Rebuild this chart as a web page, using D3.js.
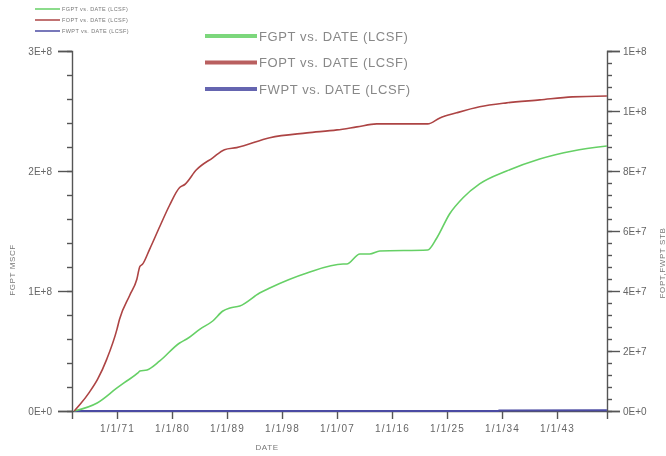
<!DOCTYPE html>
<html>
<head>
<meta charset="utf-8">
<script src="https://cdn.jsdelivr.net/npm/d3@7"></script>
<style>
    body {margin:0; background:#fff;}
    svg {display:block; font-family:"Liberation Sans", Arial, sans-serif; filter: blur(0.35px);}
    .tlabel {fill:#666; font-size:10px;}
    .xlabel {fill:#666; font-size:10px; letter-spacing:1.2px;}
    .ttl {fill:#777; font-size:8px; letter-spacing:0.6px;}
</style>
</head>
<body>
<div id="chart"></div>
<script>
// FGPT (left axis, MSCF)
var gasDates = ["1964-01-01","1967-10-01","1971-01-01","1972-08-01","1974-06-01","1974-10-01","1975-12-01","1978-01-01",
    "1981-04-01","1982-06-01","1984-08-01","1986-09-01","1988-05-01","1989-07-01","1991-02-01","1994-05-01","1996-01-01",
    "2002-02-01","2008-01-01","2008-08-01","2010-10-01","2012-05-01","2014-01-01","2021-11-01","2023-05-01","2025-06-01",
    "2027-08-01","2030-05-01","2034-10-01","2040-03-01","2045-08-01","2051-03-01"];
var gasValues = [0,6.7e6,19.2e6,25e6,31.7e6,33.3e6,34.2e6,41.7e6,
    56.7e6,60e6,68.3e6,75e6,83.3e6,85.8e6,87.5e6,98.3e6,102.5e6,
    115e6,122.5e6,122.5e6,130.8e6,130.8e6,133.3e6,134.2e6,144.2e6,164.2e6,
    177.5e6,189.2e6,200e6,210e6,216.7e6,220.8e6];

// FOPT (right axis, STB)
var oilDates = ["1964-01-01","1965-01-01","1966-07-01","1967-11-01","1969-05-01","1971-01-01","1971-06-01","1973-02-01",
    "1974-04-01","1974-10-01","1975-03-01","1976-05-01","1978-01-01","1979-08-01","1981-04-01","1982-02-01","1984-01-01",
    "1986-09-01","1988-08-01","1990-08-01","1996-01-01","2002-02-01","2007-01-01","2010-04-01","2013-07-01","2021-11-01",
    "2023-11-01","2026-08-01","2030-05-01","2034-10-01","2040-03-01","2045-07-01","2051-03-01"];
var oilValues = [0,2.3e6,6.3e6,10.6e6,17.3e6,27.3e6,30.6e6,38.6e6,
    43.9e6,48.2e6,48.9e6,53.9e6,61.5e6,68.5e6,74.5e6,75.5e6,80.4e6,
    84.4e6,87.1e6,87.8e6,91.1e6,92.7e6,93.7e6,94.7e6,95.7e6,95.7e6,
    97.7e6,99.4e6,101.4e6,102.7e6,103.7e6,104.7e6,105.0e6];

// FWPT (right axis, STB)
var waterDates = ["1964-01-01","2033-06-01","2033-07-01","2051-03-01"];
var waterValues = [0,0,2e5,2.5e5];

var xTickDates = ["1971-01-01","1980-01-01","1989-01-01","1998-01-01","2007-01-01","2016-01-01","2025-01-01","2034-01-01","2043-01-01"];
var leftTicks = [0,1e8,2e8,3e8];
var rightTicks = [0,2e7,4e7,6e7,8e7,1e8,1.2e8];
var seriesNames = ["FGPT  vs.  DATE (LCSF)","FOPT  vs.  DATE  (LCSF)","FWPT  vs.  DATE (LCSF)"];
var seriesColors = ["#66d066","#ad4444","#4b4ba3"];

var W = 666, H = 456;
var m = {l:72, r:59, t:51, b:45}; // plot box 72..607 x 51..411
var parse = d3.timeParse("%Y-%m-%d");

var svg = d3.select("#chart").append("svg").attr("width",W).attr("height",H);

var x = d3.scaleTime()
    .domain([new Date(1963,7,21), new Date(2051,2,7)])
    .range([m.l, W-m.r]);
var yL = d3.scaleLinear().domain([0,3e8]).range([H-m.b, m.t]);
var yR = d3.scaleLinear().domain([0,1.2e8]).range([H-m.b, m.t]);

// old plotting package style labels, mantissa is truncated (1.2E+8 -> 1E+8)
function sci(v) {
    if (v===0) return "0E+0";
    var e = Math.floor(Math.log10(v) + 1e-9);
    return Math.floor(v/Math.pow(10,e) + 1e-9) + "E+" + e;
}

function minorTicks(maxV, step) {
    return d3.range(0, maxV + step/2, step);
}

// left axis
var gl = svg.append("g").attr("transform","translate(" + m.l + ",0)");
gl.call(d3.axisLeft(yL).tickValues(minorTicks(3e8,2e7)).tickSize(5).tickFormat(""));
gl.call(g => g.select(".domain").remove());
var glM = svg.append("g").attr("transform","translate(" + m.l + ",0)")
    .call(d3.axisLeft(yL).tickValues(leftTicks).tickSize(14).tickPadding(6).tickFormat(sci));
glM.selectAll("text").attr("class","tlabel").attr("font-family",null).attr("font-size",null);

// right axis
var gr = svg.append("g").attr("transform","translate(" + (W-m.r) + ",0)");
gr.call(d3.axisRight(yR).tickValues(minorTicks(1.2e8,4e6)).tickSize(5).tickFormat(""));
gr.call(g => g.select(".domain").remove());
var grM = svg.append("g").attr("transform","translate(" + (W-m.r) + ",0)")
    .call(d3.axisRight(yR).tickValues(rightTicks).tickSize(13).tickPadding(3).tickFormat(sci));
grM.selectAll("text").attr("class","tlabel").attr("font-family",null).attr("font-size",null);

// bottom axis
var gb = svg.append("g").attr("transform","translate(0," + (H-m.b) + ")")
    .call(d3.axisBottom(x).tickValues(xTickDates.map(parse)).tickSize(8).tickPadding(6)
        .tickFormat(d3.timeFormat("%-m/%-d/%y")));
gb.selectAll("text").attr("class","xlabel").attr("font-family",null).attr("font-size",null);

svg.selectAll(".domain, .tick line").attr("stroke","#555").attr("stroke-width",1.4);

// axis titles
svg.append("text").attr("class","ttl").attr("x",267).attr("y",450).attr("text-anchor","middle").text("DATE");
svg.append("text").attr("class","ttl").attr("text-anchor","middle")
    .attr("transform","translate(15,270) rotate(-90)").text("FGPT  MSCF");
svg.append("text").attr("class","ttl").attr("text-anchor","middle")
    .attr("transform","translate(665,263) rotate(-90)").text("FOPT,FWPT  STB");

// series
var line = (yS) => d3.line().curve(d3.curveMonotoneX).x(d => x(d[0])).y(d => yS(d[1]));
function zipS(ds, vs) { return ds.map((d,i) => [parse(d), vs[i]]); }

svg.append("path").datum(zipS(waterDates,waterValues))
    .attr("d", line(yR)).attr("fill","none").attr("stroke",seriesColors[2]).attr("stroke-width",2);
svg.append("path").datum(zipS(gasDates,gasValues))
    .attr("d", line(yL)).attr("fill","none").attr("stroke",seriesColors[0]).attr("stroke-width",1.6);
svg.append("path").datum(zipS(oilDates,oilValues))
    .attr("d", line(yR)).attr("fill","none").attr("stroke",seriesColors[1]).attr("stroke-width",1.6);

// small legend, top left
var lgS = svg.append("g").selectAll("g").data(seriesNames).join("g")
    .attr("transform",(d,i) => "translate(35," + (9 + i*11) + ")");
lgS.append("line").attr("x1",0).attr("x2",25).attr("stroke",(d,i) => seriesColors[i]).attr("stroke-width",1.5);
lgS.append("text").attr("x",27).attr("dy","0.35em").attr("fill","#777")
    .attr("font-size",5.5).attr("letter-spacing",0.4).text(d => d);

// big legend
var lgB = svg.append("g").selectAll("g").data(seriesNames).join("g")
    .attr("transform",(d,i) => "translate(205," + (36 + i*26.5) + ")");
lgB.append("line").attr("x1",0).attr("x2",52).attr("stroke",(d,i) => seriesColors[i]).attr("stroke-width",4).attr("opacity",0.85);
lgB.append("text").attr("x",54).attr("dy","0.36em").attr("fill","#888")
    .attr("font-size",13).attr("letter-spacing",0.6).text(d => d);
</script>
</body>
</html>
